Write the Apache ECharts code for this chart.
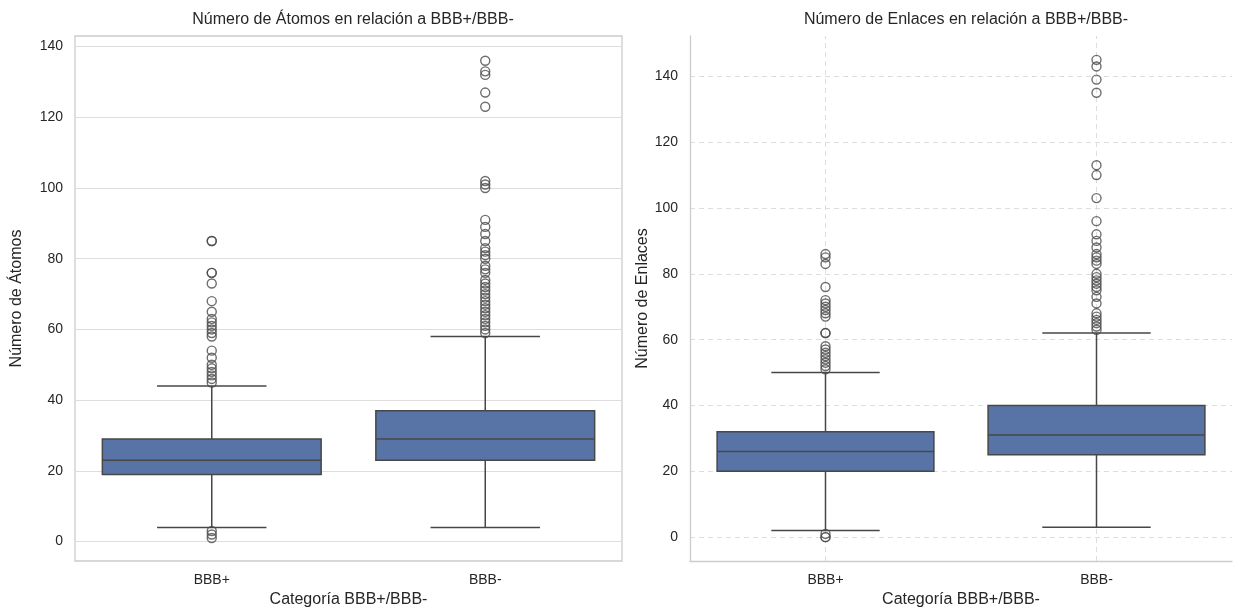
<!DOCTYPE html>
<html>
<head>
<meta charset="utf-8">
<script src="https://cdn.jsdelivr.net/npm/echarts@6/dist/echarts.min.js"></script>
<style>
html,body{margin:0;padding:0;background:#fff;}
#chart{width:1243px;height:613px;}
</style>
</head>
<body>
<div id="chart"></div>
<script>
// ---- Data ----
const categories = ['BBB+', 'BBB-'];
const yTicks = [0, 20, 40, 60, 80, 100, 120, 140];

// [lower whisker, Q1, median, Q3, upper whisker]
const atomosStatsPlus  = [4, 19, 23, 29, 44];
const atomosStatsMinus = [4, 23, 29, 37, 58];
const atomosOutliersPlus  = [1, 2, 3, 45, 46, 47, 48, 49, 50, 52, 54, 58, 59, 60, 61, 62, 63, 65, 68, 73, 76, 76, 85, 85];
const atomosOutliersMinus = [59, 60, 61, 62, 63, 64, 65, 66, 67, 68, 69, 70, 71, 72, 73, 74, 76, 77, 78, 80, 81, 82, 83, 85, 87, 89, 91, 100, 101, 102, 123, 127, 132, 133, 136];

const enlacesStatsPlus  = [2, 20, 26, 32, 50];
const enlacesStatsMinus = [3, 25, 31, 40, 62];
const enlacesOutliersPlus  = [0, 0, 1, 51, 52, 53, 54, 55, 56, 57, 58, 62, 62, 67, 68, 69, 70, 71, 72, 76, 83, 85, 86];
const enlacesOutliersMinus = [63, 64, 65, 66, 67, 68, 71, 73, 75, 76, 77, 78, 79, 80, 83, 84, 85, 86, 88, 90, 92, 96, 103, 110, 113, 135, 139, 143, 145];

// ---- Styling ----
const FONT = '"Liberation Sans", Arial, sans-serif';
const TXT = '#262626';
const BOX_FILL = '#5874a6';
const LINE = '#474747';

const chart = echarts.init(document.getElementById('chart'), null, {renderer: 'canvas'});

function renderBox(params, api) {
  const idx = api.value(0);
  const lo = api.value(1), q1 = api.value(2), med = api.value(3), q3 = api.value(4), hi = api.value(5);
  const cx = api.coord([idx, med])[0];
  const band = api.size([1, 0])[0];
  const bw = band * 0.8;
  const cw = bw * 0.5;
  const yLo = api.coord([idx, lo])[1];
  const yQ1 = api.coord([idx, q1])[1];
  const yMed = api.coord([idx, med])[1];
  const yQ3 = api.coord([idx, q3])[1];
  const yHi = api.coord([idx, hi])[1];
  const ls = {stroke: LINE, lineWidth: 1.5};
  return {
    type: 'group',
    children: [
      {type: 'line', shape: {x1: cx, y1: yQ3, x2: cx, y2: yHi}, style: ls},
      {type: 'line', shape: {x1: cx, y1: yQ1, x2: cx, y2: yLo}, style: ls},
      {type: 'line', shape: {x1: cx - cw / 2, y1: yHi, x2: cx + cw / 2, y2: yHi}, style: ls},
      {type: 'line', shape: {x1: cx - cw / 2, y1: yLo, x2: cx + cw / 2, y2: yLo}, style: ls},
      {type: 'rect', shape: {x: cx - bw / 2, y: yQ3, width: bw, height: yQ1 - yQ3}, style: {fill: BOX_FILL, stroke: LINE, lineWidth: 1.5}},
      {type: 'line', shape: {x1: cx - bw / 2, y1: yMed, x2: cx + bw / 2, y2: yMed}, style: ls}
    ]
  };
}

function boxData(statsList) {
  return statsList.map((s, i) => [i].concat(s));
}
function outlierData(lists) {
  const out = [];
  lists.forEach((l, i) => l.forEach(v => out.push([categories[i], v])));
  return out;
}

const gridCommon = {top: 36, bottom: 35, containLabel: false};

const option = {
  animation: false,
  backgroundColor: '#ffffff',
  textStyle: {fontFamily: FONT},
  title: [
    {text: 'Número de Átomos en relación a BBB+/BBB-', left: 348, top: 7, textAlign: 'center',
     textStyle: {fontFamily: FONT, fontSize: 16, fontWeight: 'normal', color: TXT}},
    {text: 'Número de Enlaces en relación a BBB+/BBB-', left: 961, top: 7, textAlign: 'center',
     textStyle: {fontFamily: FONT, fontSize: 16, fontWeight: 'normal', color: TXT}}
  ],
  grid: [
    Object.assign({left: 75, right: 621, show: true, borderColor: '#cccccc', borderWidth: 1.3}, gridCommon),
    Object.assign({left: 690, right: 11, show: false}, gridCommon)
  ],
  xAxis: [
    {gridIndex: 0, type: 'category', data: categories,
     name: 'Categoría BBB+/BBB-', nameLocation: 'middle', nameGap: 31,
     nameTextStyle: {fontFamily: FONT, fontSize: 16, color: TXT},
     axisLine: {show: false}, axisTick: {show: false}, splitLine: {show: false},
     axisLabel: {fontFamily: FONT, fontSize: 14, color: TXT, margin: 12}},
    {gridIndex: 1, type: 'category', data: categories,
     name: 'Categoría BBB+/BBB-', nameLocation: 'middle', nameGap: 31,
     nameTextStyle: {fontFamily: FONT, fontSize: 16, color: TXT},
     axisLine: {show: true, onZero: false, lineStyle: {color: '#cccccc', width: 1.3}},
     axisTick: {show: false}, splitLine: {show: false},
     axisLabel: {fontFamily: FONT, fontSize: 14, color: TXT, margin: 12}}
  ],
  yAxis: [
    {gridIndex: 0, type: 'value', min: -5.5, max: 143,
     name: 'Número de Átomos', nameLocation: 'middle', nameGap: 50,
     nameTextStyle: {fontFamily: FONT, fontSize: 16, color: TXT},
     axisLine: {show: false}, axisTick: {show: false, customValues: yTicks},
     axisLabel: {fontFamily: FONT, fontSize: 14, color: TXT, margin: 12, customValues: yTicks},
     splitLine: {show: true, lineStyle: {color: '#dddddd', width: 1.2, type: 'solid'}}},
    {gridIndex: 1, type: 'value', min: -7.25, max: 152.25,
     name: 'Número de Enlaces', nameLocation: 'middle', nameGap: 36,
     nameTextStyle: {fontFamily: FONT, fontSize: 16, color: TXT},
     axisLine: {show: true, lineStyle: {color: '#cccccc', width: 1.3}},
     axisTick: {show: false, customValues: yTicks},
     axisLabel: {fontFamily: FONT, fontSize: 14, color: TXT, margin: 12, customValues: yTicks},
     splitLine: {show: true, lineStyle: {color: '#dddddd', width: 1, type: [5, 4]}}}
  ],
  series: [
    {type: 'custom', xAxisIndex: 0, yAxisIndex: 0, renderItem: renderBox, z: 3,
     data: boxData([atomosStatsPlus, atomosStatsMinus])},
    {type: 'scatter', xAxisIndex: 0, yAxisIndex: 0, z: 4, symbol: 'circle', symbolSize: 9,
     itemStyle: {color: 'rgba(0,0,0,0)', borderColor: '#4a4a4a', borderWidth: 1.4},
     data: outlierData([atomosOutliersPlus, atomosOutliersMinus])},
    {type: 'custom', xAxisIndex: 1, yAxisIndex: 1, renderItem: renderBox, z: 3,
     data: boxData([enlacesStatsPlus, enlacesStatsMinus]),
     markLine: {silent: true, symbol: 'none', label: {show: false}, z: 1,
       lineStyle: {color: '#dddddd', width: 1, type: [5, 4]},
       data: categories.map(c => ({xAxis: c}))}},
    {type: 'scatter', xAxisIndex: 1, yAxisIndex: 1, z: 4, symbol: 'circle', symbolSize: 9,
     itemStyle: {color: 'rgba(0,0,0,0)', borderColor: '#4a4a4a', borderWidth: 1.4},
     data: outlierData([enlacesOutliersPlus, enlacesOutliersMinus])}
  ]
};
chart.setOption(option);
</script>
</body>
</html>
